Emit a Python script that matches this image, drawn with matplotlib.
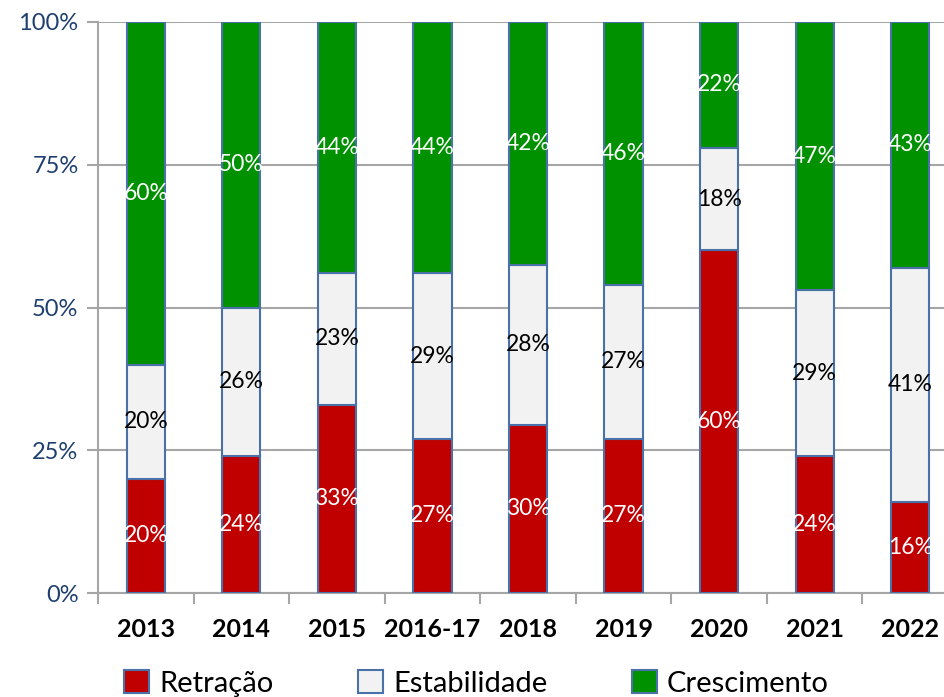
import matplotlib
matplotlib.use("Agg")
import matplotlib.pyplot as plt
from matplotlib.patches import Patch
import numpy as np

categories = ["2013", "2014", "2015", "2016-17", "2018", "2019", "2020", "2021", "2022"]
retracao = [20, 24, 33, 27, 29.5, 27, 60, 24, 16]
estabilidade = [20, 26, 23, 29, 28, 27, 18, 29, 41]
crescimento = [60, 50, 44, 44, 42.5, 46, 22, 47, 43]
series_names = ["Retração", "Estabilidade", "Crescimento"]
yticks = [0, 25, 50, 75, 100]

colors = ["#C00000", "#F2F2F2", "#009100"]
label_colors = ["white", "black", "white"]
edge = "#4A72A8"
tick_blue = "#1F3F6E"

plt.rcParams['font.family'] = ['Lato', 'DejaVu Sans']

fig = plt.figure(figsize=(9.44, 6.97), dpi=100)
ax = fig.add_axes([98/944, (697-593)/697, 860/944, 571/697])

x = np.arange(len(categories))
bottom = np.zeros(len(categories))
for vals, col, lc in zip([retracao, estabilidade, crescimento], colors, label_colors):
    vals = np.array(vals, dtype=float)
    ax.bar(x, vals, 0.4, bottom=bottom, color=col, edgecolor=edge, linewidth=1.5, zorder=3)
    for xi, b, v in zip(x, bottom, vals):
        ax.text(xi, b + v / 2, f"{v:.0f}%", ha="center", va="center", color=lc,
                fontsize=16.5, zorder=4)
    bottom += vals

ax.set_xlim(-0.5, len(categories) - 0.5)
ax.set_ylim(0, 100)
ax.set_yticks(yticks)
ax.set_yticklabels([f"{t}%" for t in yticks], color=tick_blue, fontsize=17)
ax.yaxis.grid(True, color="#A6A6A6", linewidth=1.5, zorder=0)
ax.tick_params(axis="y", length=8, width=1.5, color="#A6A6A6", pad=6)

ax.set_xticks(x)
ax.set_xticklabels(categories, fontsize=18, fontweight="bold")
ax.set_xticks(np.arange(-0.5, len(categories) + 0.5, 1), minor=True)
ax.tick_params(axis="x", which="major", length=0, pad=18)
ax.tick_params(axis="x", which="minor", length=8, width=1.5, color="#A6A6A6")

for s in ["top", "right"]:
    ax.spines[s].set_visible(False)
for s in ["left", "bottom"]:
    ax.spines[s].set_color("#A6A6A6")
    ax.spines[s].set_linewidth(1.5)

handles = [Patch(facecolor=c, edgecolor=edge, linewidth=1.5) for c in colors]
fig.legend(handles, series_names, loc="lower center", bbox_to_anchor=(0.505, -0.037),
           ncol=3, frameon=False, fontsize=21, handlelength=0.85, handleheight=0.85,
           handletextpad=0.35, columnspacing=2.9)

fig.savefig("out.png", dpi=100)
